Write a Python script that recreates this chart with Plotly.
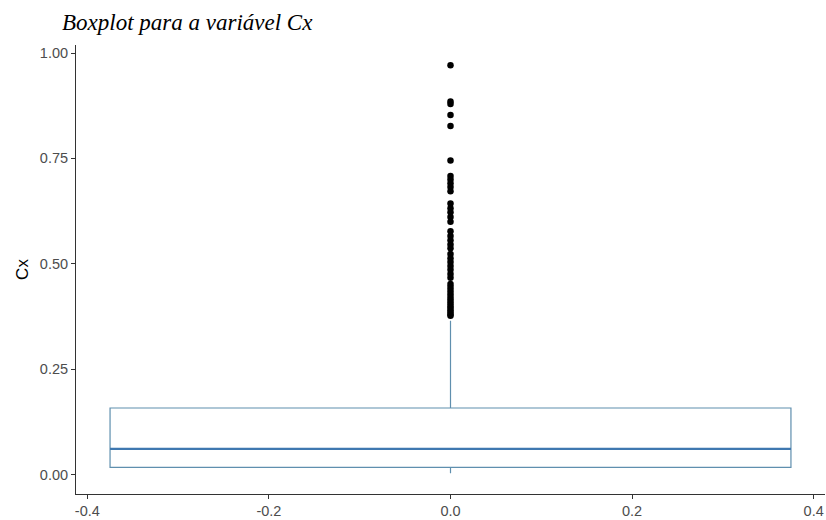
import plotly.graph_objects as go

# Summary statistics of Cx (precomputed five-number summary)
box_position = [0.0]
q1 = [0.017]
median = [0.061]
q3 = [0.158]
lower_fence = [0.003]
upper_fence = [0.365]

# Observations beyond the upper fence
outliers = [
    0.971, 0.885, 0.879, 0.853, 0.827, 0.745,
    0.708, 0.700, 0.691, 0.682, 0.672,
    0.643, 0.632, 0.622, 0.611, 0.600,
    0.577, 0.566, 0.556, 0.546, 0.537,
    0.523, 0.513, 0.504, 0.495, 0.486, 0.476, 0.467,
    0.452, 0.445, 0.438, 0.431, 0.424, 0.418, 0.412,
    0.406, 0.400, 0.395, 0.390, 0.385, 0.380, 0.377,
]

x_ticks = [-0.4, -0.2, 0.0, 0.2, 0.4]
x_tick_labels = ["-0.4", "-0.2", "0.0", "0.2", "0.4"]
y_ticks = [0.0, 0.25, 0.5, 0.75, 1.0]
y_tick_labels = ["0.00", "0.25", "0.50", "0.75", "1.00"]

BOX_WIDTH = 0.75
OUTLINE = "#5f8fae"
MEDIAN_COLOR = "#3f78b0"

fig = go.Figure()

fig.add_trace(go.Box(
    x=box_position,
    q1=q1, median=median, q3=q3,
    lowerfence=lower_fence, upperfence=upper_fence,
    width=BOX_WIDTH,
    whiskerwidth=0,
    boxpoints=False,
    fillcolor="rgba(255,255,255,0)",
    line=dict(color=OUTLINE, width=1.2),
    hoverinfo="skip",
    showlegend=False,
))

# Thicker median bar across the box
fig.add_trace(go.Scatter(
    x=[box_position[0] - BOX_WIDTH / 2, box_position[0] + BOX_WIDTH / 2],
    y=[median[0], median[0]],
    mode="lines",
    line=dict(color=MEDIAN_COLOR, width=2.4),
    hoverinfo="skip",
    showlegend=False,
))

fig.add_trace(go.Scatter(
    x=[box_position[0]] * len(outliers),
    y=outliers,
    mode="markers",
    marker=dict(color="black", size=6.5, line=dict(width=0)),
    hoverinfo="skip",
    showlegend=False,
))

axis_common = dict(
    showgrid=False,
    zeroline=False,
    showline=True,
    linecolor="#333333",
    linewidth=1.1,
    ticks="outside",
    ticklen=4,
    tickwidth=1.1,
    tickcolor="#333333",
    tickfont=dict(family="Liberation Sans, Arial", size=14.5, color="#4d4d4d"),
)

fig.update_layout(
    width=826,
    height=520,
    paper_bgcolor="white",
    plot_bgcolor="white",
    margin=dict(l=76, r=1, t=45, b=24),
    title=dict(
        text="Boxplot para a variável Cx",
        font=dict(family="Liberation Serif, Times New Roman", size=23,
                  color="black", style="italic"),
        xref="container", yref="container",
        x=62 / 826, xanchor="left",
        y=1 - 22 / 520, yanchor="middle",
    ),
    xaxis=dict(
        range=[-0.4125, 0.4125],
        tickvals=x_ticks, ticktext=x_tick_labels,
        **axis_common,
    ),
    yaxis=dict(
        range=[-0.046, 1.019],
        tickvals=y_ticks, ticktext=y_tick_labels,
        title=dict(text="Cx", font=dict(family="Liberation Sans, Arial",
                                        size=17, color="black"), standoff=6),
        **axis_common,
    ),
)

fig.write_html("out.html")
